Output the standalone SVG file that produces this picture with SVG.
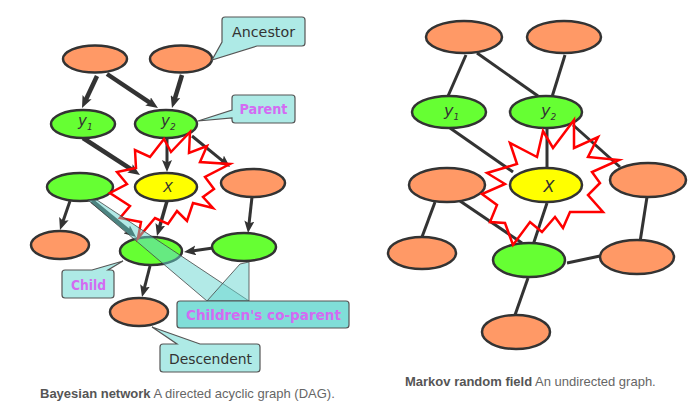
<svg xmlns="http://www.w3.org/2000/svg" width="697" height="406" viewBox="0 0 697 406">
<style>
.o{fill:#FF9966;stroke:#333;stroke-width:2.5}
.g{fill:#66FF33;stroke:#333;stroke-width:2.5}
.y{fill:#FFFF00;stroke:#333;stroke-width:2.5}
.e{stroke:#333;stroke-width:3;fill:none}
.t{stroke-width:4.5}
.star{fill:none;stroke:#FF0000;stroke-width:2.5;stroke-linejoin:miter}
.call{fill:#AEEAE6;stroke:#555;stroke-width:1.2}
.wedge{fill:#66D6D0;fill-opacity:0.5;stroke:#444;stroke-width:0.8}
.lbl{font-family:"DejaVu Sans",sans-serif;font-size:14px}
.dk{fill:#333}
.mg{fill:#D36BF2;font-weight:bold}
.var{font-family:"DejaVu Sans",sans-serif;font-style:italic;fill:#333}
.cap{font-family:"Liberation Sans",Arial,sans-serif;font-size:13px;fill:#666}
.cap .b{font-weight:bold;fill:#555}
</style>
<defs>
<marker id="arr" viewBox="0 0 12 10" refX="4" refY="5" markerWidth="12" markerHeight="10" markerUnits="userSpaceOnUse" orient="auto">
<path d="M0,0 L12,5 L0,10 L2.5,5 Z" fill="#333"/>
</marker>
</defs>

<!-- Bayesian network -->
<g id="bn-edges">
<line class="e t" x1="97" y1="76" x2="85.4" y2="100.8" marker-end="url(#arr)"/>
<line class="e t" x1="107" y1="74" x2="151.3" y2="103.6" marker-end="url(#arr)"/>
<line class="e t" x1="182" y1="75" x2="174.3" y2="100.3" marker-end="url(#arr)"/>
<line class="e t" x1="83" y1="138" x2="133.3" y2="170.6" marker-end="url(#arr)"/>
<line class="e" x1="167" y1="139" x2="167" y2="164" marker-end="url(#arr)"/>
<line class="e" x1="192" y1="136" x2="223.8" y2="161.9" marker-end="url(#arr)"/>
<line class="e" x1="70" y1="201" x2="62.6" y2="222.4" marker-end="url(#arr)"/>
<line class="e t" x1="92" y1="201" x2="129.8" y2="231.9" marker-end="url(#arr)"/>
<line class="e" x1="167" y1="201" x2="159.2" y2="228.3" marker-end="url(#arr)" style="stroke-width:3.5"/>
<line class="e" x1="252" y1="197" x2="248.9" y2="225" marker-end="url(#arr)"/>
<line class="e" x1="213" y1="248" x2="191.9" y2="250.9" marker-end="url(#arr)"/>
<line class="e" x1="150" y1="266" x2="144" y2="289.3" marker-end="url(#arr)"/>
</g>

<g id="bn-a1"><ellipse class="o" cx="95" cy="59" rx="32" ry="13.5"/></g>
<g id="bn-a2"><ellipse class="o" cx="181" cy="59" rx="31" ry="13.5"/></g>
<g id="bn-y1"><ellipse class="g" cx="83" cy="124" rx="32" ry="14"/><text class="var" x="78" y="126" font-size="15">y<tspan font-size="9" dy="4">1</tspan></text></g>
<g id="bn-y2"><ellipse class="g" cx="166" cy="124" rx="31" ry="14"/><text class="var" x="161" y="126" font-size="15">y<tspan font-size="9" dy="4">2</tspan></text></g>
<g id="bn-s"><ellipse class="g" cx="80" cy="187" rx="33" ry="14"/></g>
<g id="bn-x"><ellipse class="y" cx="166" cy="187" rx="31" ry="14"/><text class="var" x="168" y="192" font-size="14" text-anchor="middle">X</text></g>
<g id="bn-r"><ellipse class="o" cx="253" cy="183" rx="32" ry="14"/></g>
<g id="bn-bl"><ellipse class="o" cx="60" cy="245" rx="29" ry="14"/></g>
<g id="bn-child"><ellipse class="g" cx="151" cy="251" rx="31" ry="14"/></g>
<g id="bn-cop"><ellipse class="g" cx="244" cy="247" rx="32" ry="14"/></g>
<g id="bn-desc"><ellipse class="o" cx="139" cy="312" rx="29" ry="14"/></g>

<polygon id="bn-star" class="star" points="164,139 171,152 190,132 189,153 207,146 200,162 230,164 205,177 214,189 203,197 213,208 193,203 187,221 177,211 168,224 155,218 138,238 141,222 120,218 130,206 110,193 127,184 117,172 136,168 135,150 150,157"/>

<g id="callout-ancestor">
<path class="call" d="M225,17 H302 Q305,17 305,20 V43 Q305,46 302,46 H257 L212,60 L222,42 V20 Q222,17 225,17 Z"/>
<text class="lbl dk" x="263.5" y="37" text-anchor="middle" textLength="63" lengthAdjust="spacingAndGlyphs">Ancestor</text>
</g>
<g id="callout-parent">
<path class="call" d="M235,95 H292 Q295,95 295,98 V120 Q295,123 292,123 H235 Q232,123 232,120 V118 L198,121 L232,110 V98 Q232,95 235,95 Z"/>
<text class="lbl mg" x="263.5" y="114" text-anchor="middle" textLength="48" lengthAdjust="spacingAndGlyphs">Parent</text>
</g>
<g id="callout-child">
<path class="call" d="M65,270 H92 L123,261 L108,270 H111 Q114,270 114,273 V295 Q114,298 111,298 H65 Q62,298 62,295 V273 Q62,270 65,270 Z"/>
<text class="lbl mg" x="88.5" y="290" text-anchor="middle" textLength="35" lengthAdjust="spacingAndGlyphs">Child</text>
</g>
<g id="callout-coparent">
<polygon class="wedge" points="88,200 97,200 249,301 207,301"/>
<polygon class="wedge" points="240,264 249,262 249,301 207,301"/>
<rect x="177" y="301" width="172" height="27" rx="3" fill="#80DED8" stroke="#555" stroke-width="1.2"/>
<text class="lbl mg" x="263.5" y="320" text-anchor="middle" textLength="155" lengthAdjust="spacingAndGlyphs">Children's co-parent</text>
</g>
<g id="callout-descendent">
<path class="call" d="M163,344 H177 L152,327 L200,344 H257 Q260,344 260,347 V369 Q260,372 257,372 H163 Q160,372 160,369 V347 Q160,344 163,344 Z"/>
<text class="lbl dk" x="210.5" y="364" text-anchor="middle" textLength="83" lengthAdjust="spacingAndGlyphs">Descendent</text>
</g>

<text class="cap" x="40" y="398"><tspan class="b">Bayesian network</tspan> A directed acyclic graph (DAG).</text>

<!-- Markov random field -->
<g id="mrf-edges">
<line class="e" x1="466" y1="55" x2="448" y2="96"/>
<line class="e" x1="477" y1="53" x2="538" y2="96"/>
<line class="e" x1="565" y1="55" x2="552" y2="97"/>
<line class="e" x1="450" y1="128" x2="513" y2="172"/>
<line class="e" x1="547" y1="129" x2="547" y2="168"/>
<line class="e" x1="573" y1="125" x2="620" y2="167"/>
<line class="e" x1="460" y1="201" x2="522" y2="243"/>
<line class="e" x1="435" y1="202" x2="422" y2="237"/>
<line class="e" x1="547" y1="203" x2="533" y2="245"/>
<line class="e" x1="647" y1="197" x2="640" y2="242"/>
<line class="e" x1="567" y1="263" x2="600" y2="256"/>
<line class="e" x1="528" y1="278" x2="515" y2="315"/>
</g>

<g id="mrf-a1"><ellipse class="o" cx="464" cy="37" rx="38" ry="16"/></g>
<g id="mrf-a2"><ellipse class="o" cx="564" cy="37" rx="37" ry="16"/></g>
<g id="mrf-y1"><ellipse class="g" cx="449" cy="112" rx="37" ry="16"/><text class="var" x="444" y="116" font-size="16">y<tspan font-size="9" dy="4">1</tspan></text></g>
<g id="mrf-y2"><ellipse class="g" cx="546" cy="112" rx="36" ry="16"/><text class="var" x="541" y="116" font-size="16">y<tspan font-size="9" dy="4">2</tspan></text></g>
<g id="mrf-l"><ellipse class="o" cx="447" cy="185" rx="38" ry="17"/></g>
<g id="mrf-x"><ellipse class="y" cx="546" cy="185" rx="36" ry="17"/><text class="var" x="549" y="192" font-size="16" text-anchor="middle">X</text></g>
<g id="mrf-r"><ellipse class="o" cx="648" cy="180" rx="38" ry="17"/></g>
<g id="mrf-bl"><ellipse class="o" cx="422" cy="253" rx="34" ry="16"/></g>
<g id="mrf-child"><ellipse class="g" cx="529" cy="260" rx="36" ry="17"/></g>
<g id="mrf-br"><ellipse class="o" cx="637" cy="257" rx="37" ry="17"/></g>
<g id="mrf-desc"><ellipse class="o" cx="516" cy="332" rx="34" ry="17"/></g>

<polygon id="mrf-star" class="star" points="543,131 553,148 574,120 574,148 598,137 588,157 619,160 592,172 600,183 588,195 603,212 570,212 563,228 555,217 542,232 530,222 513,245 505,223 490,222 497,205 482,194 505,184 487,173 517,164 510,143 537,157"/>

<text class="cap" x="405" y="386"><tspan class="b">Markov random field</tspan> An undirected graph.</text>
</svg>
